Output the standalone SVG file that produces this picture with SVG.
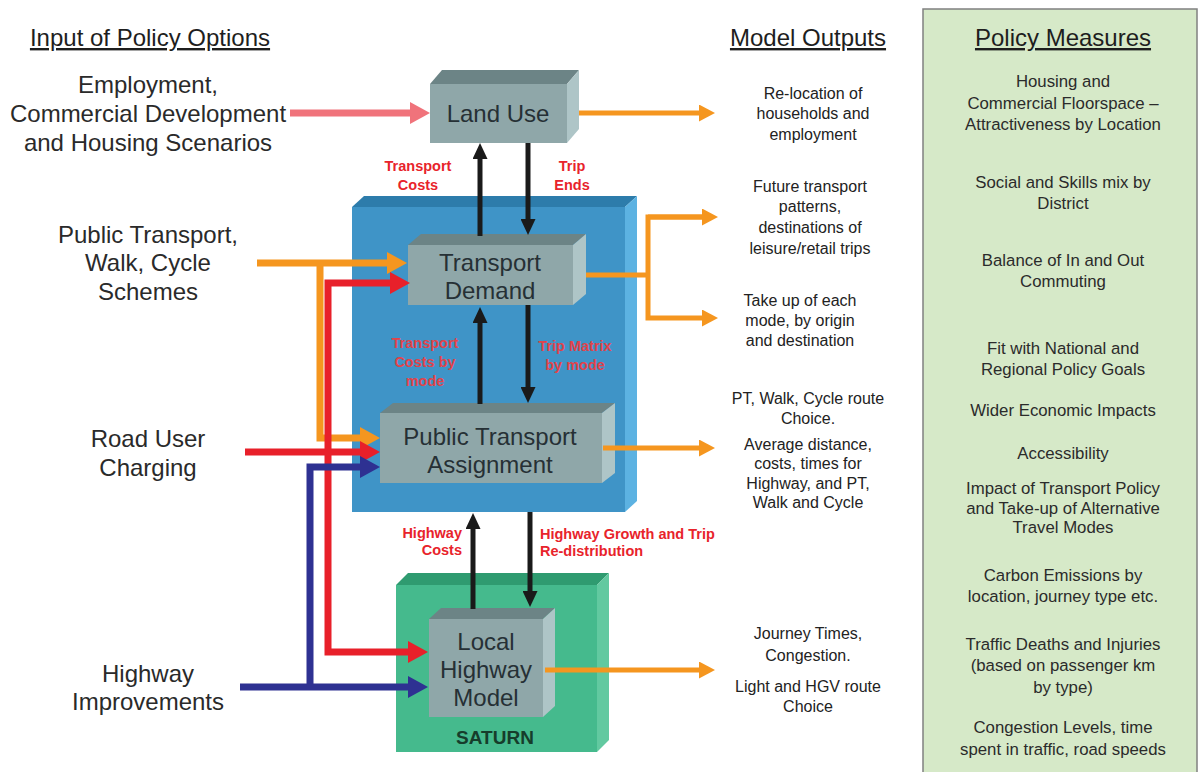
<svg xmlns="http://www.w3.org/2000/svg" width="1198" height="772" viewBox="0 0 1198 772">
  <style>
    text { font-family: "Liberation Sans", Arial, sans-serif; }
    .head { font-size: 24px; fill: #1e1e1e; text-anchor: middle; text-decoration: underline; }
    .input { font-size: 24px; fill: #2a2a2a; text-anchor: middle; }
    .box { font-size: 24px; fill: #263035; text-anchor: middle; }
    .out { font-size: 16px; fill: #222; text-anchor: middle; }
    .pm { font-size: 16.8px; fill: #2b2b2b; text-anchor: middle; }
    .lbl { font-size: 14.5px; font-weight: bold; fill: #e8232b; }
    .lblb { font-size: 14.5px; font-weight: bold; fill: #e2434a; }
    .gf { fill: #8fa7a9; }
    .gt { fill: #6c8486; }
    .gs { fill: #aec5c7; }
    .thick { fill: none; stroke-width: 7; stroke-linejoin: miter; }
    .thin { fill: none; stroke-width: 5; }
    .blk { fill: none; stroke: #1a1a1a; stroke-width: 5; }
  </style>
  <defs>
    <marker id="hOrangeL" markerUnits="userSpaceOnUse" markerWidth="20" markerHeight="22" refX="10" refY="11" orient="auto">
      <path d="M0,0 L20,11 L0,22 z" fill="#f5961f"/>
    </marker>
    <marker id="hRedL" markerUnits="userSpaceOnUse" markerWidth="20" markerHeight="22" refX="10" refY="11" orient="auto">
      <path d="M0,0 L20,11 L0,22 z" fill="#e8202a"/>
    </marker>
    <marker id="hBlueL" markerUnits="userSpaceOnUse" markerWidth="20" markerHeight="22" refX="10" refY="11" orient="auto">
      <path d="M0,0 L20,11 L0,22 z" fill="#2e3192"/>
    </marker>
    <marker id="hPink" markerUnits="userSpaceOnUse" markerWidth="20" markerHeight="22" refX="10" refY="11" orient="auto">
      <path d="M0,0 L20,11 L0,22 z" fill="#f0737b"/>
    </marker>
    <marker id="hOrangeS" markerUnits="userSpaceOnUse" markerWidth="16" markerHeight="17" refX="8" refY="8.5" orient="auto">
      <path d="M0,0 L16,8.5 L0,17 z" fill="#f5961f"/>
    </marker>
    <marker id="hBlack" markerUnits="userSpaceOnUse" markerWidth="16" markerHeight="15" refX="8" refY="7.5" orient="auto">
      <path d="M0,0 L16,7.5 L0,15 z" fill="#1a1a1a"/>
    </marker>
  </defs>

  <rect width="1198" height="772" fill="#ffffff"/>

  <!-- Headings -->
  <text class="head" x="150" y="46">Input of Policy Options</text>
  <text class="head" x="808" y="46">Model Outputs</text>

  <!-- Policy measures panel -->
  <g id="policy-measures">
    <rect x="923" y="9" width="274" height="770" fill="#d6e9c8" stroke="#808080" stroke-width="1.5"/>
    <text class="head" x="1063" y="46">Policy Measures</text>
    <text class="pm" x="1063" y="87">Housing and</text>
    <text class="pm" x="1063" y="109">Commercial Floorspace –</text>
    <text class="pm" x="1063" y="130">Attractiveness by Location</text>
    <text class="pm" x="1063" y="188">Social and Skills mix by</text>
    <text class="pm" x="1063" y="209">District</text>
    <text class="pm" x="1063" y="266">Balance of In and Out</text>
    <text class="pm" x="1063" y="287">Commuting</text>
    <text class="pm" x="1063" y="354">Fit with National and</text>
    <text class="pm" x="1063" y="375">Regional Policy Goals</text>
    <text class="pm" x="1063" y="416">Wider Economic Impacts</text>
    <text class="pm" x="1063" y="459">Accessibility</text>
    <text class="pm" x="1063" y="494">Impact of Transport Policy</text>
    <text class="pm" x="1063" y="514">and Take-up of Alternative</text>
    <text class="pm" x="1063" y="533">Travel Modes</text>
    <text class="pm" x="1063" y="581">Carbon Emissions by</text>
    <text class="pm" x="1063" y="602">location, journey type etc.</text>
    <text class="pm" x="1063" y="650">Traffic Deaths and Injuries</text>
    <text class="pm" x="1063" y="671">(based on passenger km</text>
    <text class="pm" x="1063" y="693">by type)</text>
    <text class="pm" x="1063" y="733">Congestion Levels, time</text>
    <text class="pm" x="1063" y="755">spent in traffic, road speeds</text>
  </g>

  <!-- Input labels -->
  <g id="input-employment">
    <text class="input" x="148" y="93">Employment,</text>
    <text class="input" x="148" y="122">Commercial Development</text>
    <text class="input" x="148" y="151">and Housing Scenarios</text>
  </g>
  <g id="input-pt">
    <text class="input" x="148" y="243">Public Transport,</text>
    <text class="input" x="148" y="271">Walk, Cycle</text>
    <text class="input" x="148" y="300">Schemes</text>
  </g>
  <g id="input-ruc">
    <text class="input" x="148" y="447">Road User</text>
    <text class="input" x="148" y="476">Charging</text>
  </g>
  <g id="input-highway">
    <text class="input" x="148" y="682">Highway</text>
    <text class="input" x="148" y="710">Improvements</text>
  </g>

  <!-- Transport model container (blue) -->
  <g id="transport-model">
    <polygon points="352,207 364,196 637,196 625,207" fill="#2d7cab"/>
    <polygon points="625,207 637,196 637,501 625,512" fill="#5cb2e2"/>
    <rect x="352" y="207" width="273" height="305" fill="#3f94c7"/>
  </g>

  <!-- SATURN container (green) -->
  <g id="saturn">
    <polygon points="396,585 408,573 609,573 597,585" fill="#2f9b70"/>
    <polygon points="597,585 609,573 609,740 597,752" fill="#62c9a0"/>
    <rect x="396" y="585" width="201" height="167" fill="#45ba8d"/>
    <text x="495" y="744" font-size="19" font-weight="bold" fill="#163d2b" text-anchor="middle">SATURN</text>
  </g>

  <g id="land-use">
    <polygon class="gt" points="430,84 442,70 579,70 567,84"/>
    <polygon class="gs" points="567,84 579,70 579,129 567,143"/>
    <rect class="gf" x="430" y="84" width="137" height="59"/>
    <text class="box" x="498" y="122">Land Use</text>
  </g>

  <g id="transport-demand">
    <polygon class="gt" points="408,245 421,234 586,234 573,245"/>
    <polygon class="gs" points="573,245 586,234 586,294 573,305"/>
    <rect class="gf" x="408" y="245" width="165" height="60"/>
    <text class="box" x="490" y="271">Transport</text>
    <text class="box" x="490" y="299">Demand</text>
  </g>

  <g id="pt-assignment">
    <polygon class="gt" points="380,413 393,403 615,403 602,413"/>
    <polygon class="gs" points="602,413 615,403 615,473 602,483"/>
    <rect class="gf" x="380" y="413" width="222" height="70"/>
    <text class="box" x="490" y="445">Public Transport</text>
    <text class="box" x="490" y="473">Assignment</text>
  </g>

  <g id="local-highway">
    <polygon class="gt" points="429,619 441,608 555,608 543,619"/>
    <polygon class="gs" points="543,619 555,608 555,706 543,717"/>
    <rect class="gf" x="429" y="619" width="114" height="98"/>
    <text class="box" x="486" y="650">Local</text>
    <text class="box" x="486" y="678">Highway</text>
    <text class="box" x="486" y="706">Model</text>
  </g>

  <!-- Output texts -->
  <g id="out-landuse">
    <text class="out" x="813" y="99">Re-location of</text>
    <text class="out" x="813" y="119">households and</text>
    <text class="out" x="813" y="140">employment</text>
  </g>
  <g id="out-demand">
    <text class="out" x="810" y="192">Future transport</text>
    <text class="out" x="810" y="212">patterns,</text>
    <text class="out" x="810" y="233">destinations of</text>
    <text class="out" x="810" y="254">leisure/retail trips</text>
    <text class="out" x="800" y="306">Take up of each</text>
    <text class="out" x="800" y="326">mode, by origin</text>
    <text class="out" x="800" y="346">and destination</text>
  </g>
  <g id="out-pt">
    <text class="out" x="808" y="404">PT, Walk, Cycle route</text>
    <text class="out" x="808" y="424">Choice.</text>
    <text class="out" x="808" y="450">Average distance,</text>
    <text class="out" x="808" y="469">costs, times for</text>
    <text class="out" x="808" y="489">Highway, and PT,</text>
    <text class="out" x="808" y="508">Walk and Cycle</text>
  </g>
  <g id="out-highway">
    <text class="out" x="808" y="639">Journey Times,</text>
    <text class="out" x="808" y="661">Congestion.</text>
    <text class="out" x="808" y="692">Light and HGV route</text>
    <text class="out" x="808" y="712">Choice</text>
  </g>

  <!-- Connectors -->
  <g id="connectors">
    <!-- policy inputs -->
    <path class="thick" stroke="#f0737b" d="M290,113 H420" marker-end="url(#hPink)"/>
    <path class="thick" stroke="#f5961f" d="M257,263 H397" marker-end="url(#hOrangeL)"/>
    <path class="thick" stroke="#f5961f" d="M320,263 V438 H370" marker-end="url(#hOrangeL)"/>
    <path class="thick" stroke="#e8202a" d="M397,283 H328 V652 H418" marker-end="url(#hRedL)"/>
    <path class="thick" stroke="#e8202a" d="M397,283 H400" marker-end="url(#hRedL)"/>
    <path class="thick" stroke="#e8202a" d="M245,452 H370" marker-end="url(#hRedL)"/>
    <path class="thick" stroke="#2e3192" d="M240,687 H418" marker-end="url(#hBlueL)"/>
    <path class="thick" stroke="#2e3192" d="M310,687 V467 H370" marker-end="url(#hBlueL)"/>

    <!-- model exchanges -->
    <path class="blk" d="M480,236 V151" marker-end="url(#hBlack)"/>
    <path class="blk" d="M528,143 V227" marker-end="url(#hBlack)"/>
    <path class="blk" d="M480,404 V315" marker-end="url(#hBlack)"/>
    <path class="blk" d="M528,305 V395" marker-end="url(#hBlack)"/>
    <path class="blk" d="M473,609 V521" marker-end="url(#hBlack)"/>
    <path class="blk" d="M530,512 V599" marker-end="url(#hBlack)"/>

    <!-- model outputs -->
    <path class="thin" stroke="#f5961f" d="M579,113 H707" marker-end="url(#hOrangeS)"/>
    <path class="thin" stroke="#f5961f" d="M586,275 H648"/>
    <path class="thin" stroke="#f5961f" d="M710,217 H648 V318 H710" marker-end="url(#hOrangeS)"/>
    <path class="thin" stroke="#f5961f" d="M648,217 H710" marker-end="url(#hOrangeS)"/>
    <path class="thin" stroke="#f5961f" d="M603,448 H707" marker-end="url(#hOrangeS)"/>
    <path class="thin" stroke="#f5961f" d="M545,670 H707" marker-end="url(#hOrangeS)"/>

    <!-- exchange labels -->
    <text class="lbl" x="418" y="171" text-anchor="middle">Transport</text>
    <text class="lbl" x="418" y="190" text-anchor="middle">Costs</text>
    <text class="lbl" x="572" y="171" text-anchor="middle">Trip</text>
    <text class="lbl" x="572" y="190" text-anchor="middle">Ends</text>
    <text class="lblb" x="425" y="348" text-anchor="middle">Transport</text>
    <text class="lblb" x="425" y="367" text-anchor="middle">Costs by</text>
    <text class="lblb" x="425" y="386" text-anchor="middle">mode</text>
    <text class="lblb" x="575" y="351" text-anchor="middle">Trip Matrix</text>
    <text class="lblb" x="575" y="370" text-anchor="middle">by mode</text>
    <text class="lbl" x="462" y="538" text-anchor="end">Highway</text>
    <text class="lbl" x="462" y="555" text-anchor="end">Costs</text>
    <text class="lbl" x="540" y="539">Highway Growth and Trip</text>
    <text class="lbl" x="540" y="556">Re-distribution</text>
  </g>
</svg>
